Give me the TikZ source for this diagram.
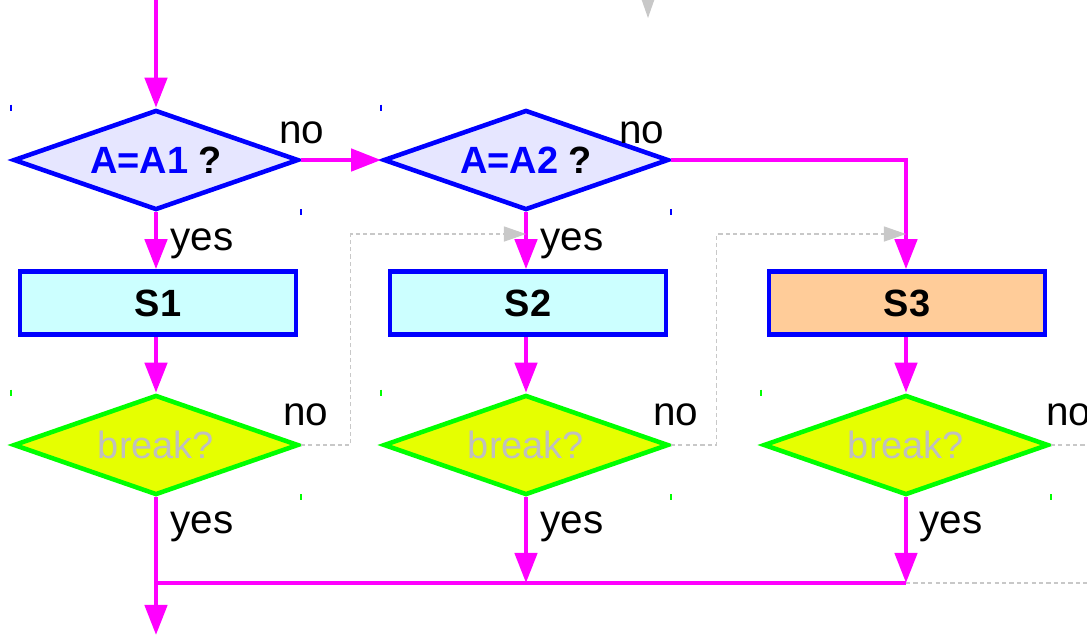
\documentclass[tikz,border=0pt]{standalone}
\usepackage{fontspec}
\setmainfont{Liberation Sans}
\usetikzlibrary{shapes.geometric,arrows.meta,calc,positioning}
\definecolor{askfill}{HTML}{E6E6FF}
\definecolor{jobfill}{HTML}{CCFFFF}
\definecolor{lastfill}{HTML}{FFCC99}
\definecolor{brkfill}{HTML}{E6FF00}
\definecolor{brkline}{HTML}{00FF00}
\definecolor{hintgray}{HTML}{C8C8C8}
\definecolor{brktext}{HTML}{BFBFBF}
\definecolor{pathpink}{HTML}{FF00FF}
\definecolor{pureblue}{HTML}{0000FF}
\tikzset{
  ask/.style={diamond,aspect=2.85,draw=pureblue,fill=askfill,line width=1.3pt,inner sep=0pt,
    minimum width=2.85cm,minimum height=1cm,font=\fontsize{10.8}{12}\selectfont\bfseries},
  brk/.style={diamond,aspect=2.85,draw=brkline,fill=brkfill,line width=1.3pt,inner sep=0pt,
    minimum width=2.85cm,minimum height=1cm,text=brktext,font=\fontsize{10.8}{12}\selectfont},
  job/.style={rectangle,draw=pureblue,fill=jobfill,line width=1.3pt,inner sep=0pt,
    minimum width=2.76cm,minimum height=0.63cm,font=\fontsize{10.8}{12}\selectfont\bfseries},
  wire/.style={pathpink,line width=1.3pt,-{Triangle[width=0.22cm,length=0.3cm]}},
  hint/.style={hintgray,dash pattern=on 1.2pt off 0.9pt,line width=0.35pt},
  lbl/.style={font=\fontsize{11.5}{13}\selectfont,inner sep=0pt}
}

\begin{document}
\begin{tikzpicture}[x=0.01cm,y=-0.01cm]
  \useasboundingbox (0,0) rectangle (1087,635);
  % decisions
  \node[ask] (q1) at (156,160) {\textcolor{pureblue}{A=A1} ?};
  \node[ask] (q2) at (526,160) {\textcolor{pureblue}{A=A2} ?};
  % statements
  \node[job] (s1) at (158,303) {S1};
  \node[job] (s2) at (528,303) {S2};
  \node[job,fill=lastfill] (s3) at (907,303) {S3};
  % break tests
  \node[brk] (b1) at (156,445) {break?};
  \node[brk] (b2) at (526,445) {break?};
  \node[brk] (b3) at (906,445) {break?};

  \coordinate (in) at (156,0);
  \coordinate (out) at (156,635);
  \coordinate (m1) at (156,583);
  \coordinate (up) at (648,18);

  % corner ticks
  \foreach \n/\c in {q1/pureblue,q2/pureblue,b1/brkline,b2/brkline,b3/brkline}{
    \draw[\c,line width=0.6pt] (\n.west |- \n.north) ++(0,-3) -- ++(0,6);
    \draw[\c,line width=0.6pt] (\n.east |- \n.south) ++(0,-3) -- ++(0,6);
  }

  % main flow
  \draw[wire] (in) -- (q1.north);
  \draw[wire] (q1.east) -- (q2.west);
  \draw[wire] (q1.south) -- (q1.south |- s1.north);
  \draw[wire] (q2.south) -- (q2.south |- s2.north);
  \draw[wire] (q2.east) -| (s3.north -| b3.north);
  \draw[wire] (s1.south -| b1.north) -- (b1.north);
  \draw[wire] (s2.south -| b2.north) -- (b2.north);
  \draw[wire] (s3.south -| b3.north) -- (b3.north);
  \draw[wire] (b1.south) -- (out);
  \draw[wire] (b2.south) -- (b2.south |- m1);
  \draw[wire] (b3.south) -- (b3.south |- m1);
  \draw[pathpink,line width=1.3pt] (m1) -- (b3.south |- m1);

  % continue paths
  \draw[hint,-{Triangle[width=0.15cm,length=0.22cm]}] (b1.east) -- ++(50,0) |- (q2.south |- 0,234);
  \draw[hint,-{Triangle[width=0.15cm,length=0.22cm]}] (b2.east) -- ++(46,0) |- (b3.north |- 0,234);
  \draw[hint] (b3.east) -- (1087,445);
  \draw[hint] (b3.south |- m1) -- (1087,583);
  \draw[hint,-{Triangle[width=0.15cm,length=0.22cm]}] (648,-10) -- (up);

  % labels
  \node[lbl] (n1) at (302,133) {no};
  \node[lbl] (n2) at (642,133) {no};
  \node[lbl] (n3) at (306,415) {no};
  \node[lbl] (n4) at (676,415) {no};
  \node[lbl] (n5) at (1069,415) {no};
  \node[lbl] (y1) at (202,244) {yes};
  \node[lbl] (y2) at (572,244) {yes};
  \node[lbl] (y3) at (202,527) {yes};
  \node[lbl] (y4) at (572,527) {yes};
  \node[lbl] (y5) at (951,527) {yes};
\end{tikzpicture}
\end{document}
